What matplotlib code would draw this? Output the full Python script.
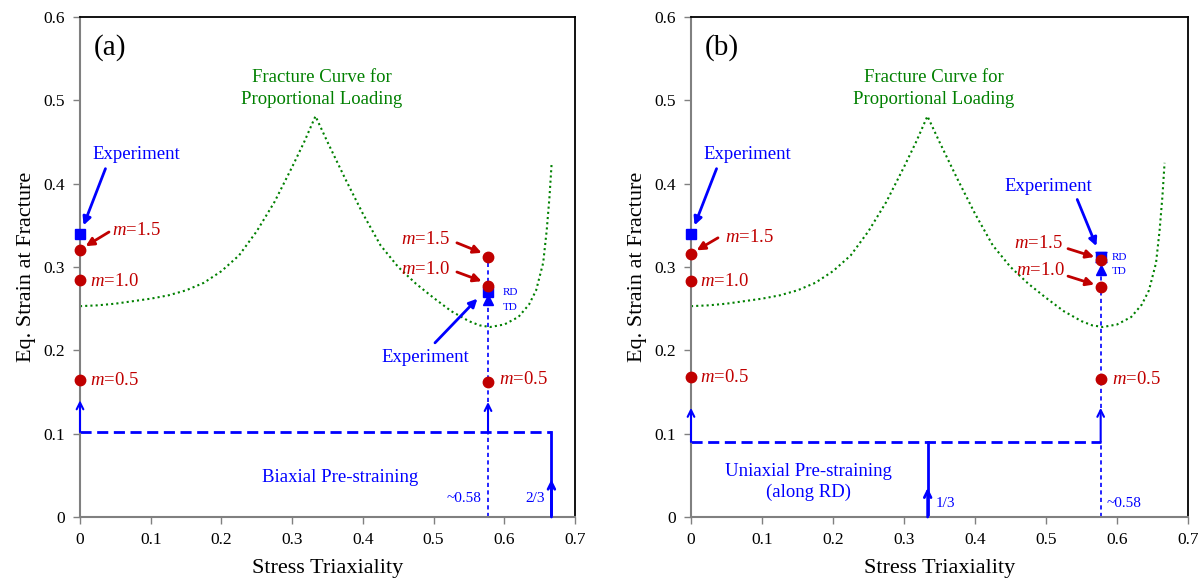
import matplotlib
matplotlib.use('Agg')
import matplotlib.pyplot as plt

plt.rcParams['font.family'] = ['Liberation Serif', 'DejaVu Serif']
plt.rcParams['mathtext.fontset'] = 'custom'
plt.rcParams['mathtext.it'] = 'Liberation Serif:italic'
plt.rcParams['mathtext.rm'] = 'Liberation Serif'

# fracture curve for proportional loading
curve_x = [0.000, 0.025, 0.050, 0.075, 0.100, 0.125, 0.150, 0.175, 0.200,
           0.225, 0.250, 0.275, 0.300, 0.317, 0.333,
           0.350, 0.375, 0.400, 0.425, 0.450, 0.475, 0.500, 0.525, 0.550,
           0.565, 0.580, 0.600, 0.620, 0.635, 0.645, 0.655, 0.660, 0.664,
           0.667]
curve_y = [0.253, 0.254, 0.256, 0.259, 0.262, 0.266, 0.272, 0.281, 0.295,
           0.314, 0.343, 0.378, 0.420, 0.450, 0.481,
           0.450, 0.406, 0.364, 0.326, 0.300, 0.280, 0.263, 0.247, 0.235,
           0.230, 0.228, 0.231, 0.240, 0.255, 0.272, 0.305, 0.344, 0.385,
           0.425]

m_labels = ['$m$=0.5', '$m$=1.0', '$m$=1.5']
eta_shear = 0.0
eta_ps = 0.577

# (a) biaxial pre-straining
a_pre = 0.102
a_path_eta = 2 / 3
a_left_pred = [0.165, 0.284, 0.320]
a_right_pred = [0.162, 0.277, 0.312]
a_left_exp = 0.340
a_right_rd = 0.270
a_right_td = 0.261

# (b) uniaxial pre-straining
b_pre = 0.090
b_path_eta = 1 / 3
b_left_pred = [0.168, 0.283, 0.316]
b_right_pred = [0.166, 0.276, 0.308]
b_left_exp = 0.340
b_right_rd = 0.312
b_right_rd_err = 0.006
b_right_td = 0.297

xticks = [0, 0.1, 0.2, 0.3, 0.4, 0.5, 0.6, 0.7]
xticklabels = ['0', '0.1', '0.2', '0.3', '0.4', '0.5', '0.6', '0.7']
yticks = [0, 0.1, 0.2, 0.3, 0.4, 0.5, 0.6]
yticklabels = ['0', '0.1', '0.2', '0.3', '0.4', '0.5', '0.6']

BLUE = '#0000ff'
RED = '#c00000'
GREEN = '#008000'
GRAY = '#808080'
FS = 13.5

fig = plt.figure(figsize=(12.02, 5.79), dpi=100)
ax_a = fig.add_axes([80 / 1202, 62 / 579, 495 / 1202, 500 / 579])
ax_b = fig.add_axes([691 / 1202, 62 / 579, 497 / 1202, 500 / 579])


def setup(ax, tag):
    ax.set_xlim(0, 0.7)
    ax.set_ylim(0, 0.6)
    ax.set_xticks(xticks)
    ax.set_xticklabels(xticklabels)
    ax.set_yticks(yticks)
    ax.set_yticklabels(yticklabels)
    ax.tick_params(direction='out', length=5, width=1, color=GRAY,
                   labelsize=12.5, pad=6)
    for s in ['left', 'bottom']:
        ax.spines[s].set_color(GRAY)
        ax.spines[s].set_linewidth(1.5)
    for s in ['top', 'right']:
        ax.spines[s].set_color('black')
        ax.spines[s].set_linewidth(1.3)
    ax.set_xlabel('Stress Triaxiality', fontsize=16, labelpad=8)
    ax.set_ylabel('Eq. Strain at Fracture', fontsize=16, labelpad=5)
    ax.text(0.019, 0.563, tag, fontsize=21, va='center')
    ax.plot(curve_x, curve_y, ls=(0, (1, 1.5)), color=GREEN, lw=1.5)
    ax.text(0.342, 0.514, 'Fracture Curve for\nProportional Loading',
            color=GREEN, fontsize=FS, ha='center', va='center',
            linespacing=1.35)


def arrow(ax, start, end, color, style='-|>', lw=2.0, ms=12):
    ax.annotate('', xy=end, xytext=start,
                arrowprops=dict(arrowstyle=style, color=color, lw=lw,
                                mutation_scale=ms, shrinkA=0, shrinkB=0),
                annotation_clip=False)


def up_arrow(ax, x, y0, y1, lw=1.5):
    arrow(ax, (x, y0), (x, y1), BLUE, style='->', lw=lw, ms=12)


# ---------------- panel (a)
setup(ax_a, '(a)')
ax = ax_a
ax.plot([eta_shear, a_path_eta], [a_pre, a_pre], ls=(0, (4, 2)),
        color=BLUE, lw=2, clip_on=False)
ax.plot([a_path_eta, a_path_eta], [0, a_pre], color=BLUE, lw=2)
up_arrow(ax, a_path_eta, 0, 0.045, lw=2)
ax.plot([eta_ps, eta_ps], [0, a_pre], ls=(0, (2.5, 2)), color=BLUE, lw=1.2)
up_arrow(ax, eta_ps, a_pre, 0.138)
ax.plot([eta_ps, eta_ps], [0.138, a_right_pred[2]], ls=(0, (2.5, 2)),
        color=BLUE, lw=1.2)
up_arrow(ax, eta_shear, a_pre, 0.14)
ax.text(0.368, 0.048, 'Biaxial Pre-straining', color=BLUE, fontsize=FS,
        ha='center', va='center')
ax.text(0.568, 0.018, '~0.58', color=BLUE, fontsize=11, ha='right')
ax.text(0.658, 0.018, '2/3', color=BLUE, fontsize=11, ha='right')

ax.plot([eta_shear], [a_left_exp], 's', color=BLUE, ms=7.5, clip_on=False,
        zorder=5)
ax.plot([eta_ps], [a_right_rd], 's', color=BLUE, ms=7.5, zorder=5)
ax.plot([eta_ps], [a_right_td], '^', color=BLUE, ms=7, zorder=5)
ax.plot([eta_shear] * 3, a_left_pred, 'o', color=RED, ms=7.5, clip_on=False,
        zorder=6)
ax.plot([eta_ps] * 3, a_right_pred, 'o', color=RED, ms=7.5, zorder=6)
ax.text(0.598, 0.269, 'RD', color=BLUE, fontsize=8, va='center')
ax.text(0.598, 0.252, 'TD', color=BLUE, fontsize=8, va='center')

ax.text(0.017, 0.435, 'Experiment', color=BLUE, fontsize=FS, va='center')
arrow(ax, (0.036, 0.418), (0.005, 0.350), BLUE)
ax.text(0.045, 0.344, m_labels[2], color=RED, fontsize=FS, va='center')
arrow(ax, (0.041, 0.342), (0.008, 0.325), RED)
ax.text(0.014, 0.283, m_labels[1], color=RED, fontsize=FS, va='center')
ax.text(0.014, 0.164, m_labels[0], color=RED, fontsize=FS, va='center')

ax.text(0.523, 0.333, m_labels[2], color=RED, fontsize=FS, va='center',
        ha='right')
arrow(ax, (0.533, 0.329), (0.568, 0.317), RED)
ax.text(0.523, 0.297, m_labels[1], color=RED, fontsize=FS, va='center',
        ha='right')
arrow(ax, (0.533, 0.294), (0.568, 0.283), RED)
ax.text(0.427, 0.192, 'Experiment', color=BLUE, fontsize=FS, va='center')
arrow(ax, (0.502, 0.209), (0.562, 0.262), BLUE)
ax.text(0.592, 0.165, m_labels[0], color=RED, fontsize=FS, va='center')

# ---------------- panel (b)
setup(ax_b, '(b)')
ax = ax_b
ax.plot([eta_shear, eta_ps], [b_pre, b_pre], ls=(0, (4, 2)),
        color=BLUE, lw=2, clip_on=False)
ax.plot([b_path_eta, b_path_eta], [0, b_pre], color=BLUE, lw=2)
up_arrow(ax, b_path_eta, 0, 0.035, lw=2)
ax.plot([eta_ps, eta_ps], [0, b_pre], ls=(0, (2.5, 2)), color=BLUE, lw=1.2)
up_arrow(ax, eta_ps, b_pre, 0.131)
ax.plot([eta_ps, eta_ps], [0.131, b_right_rd], ls=(0, (2.5, 2)),
        color=BLUE, lw=1.2)
up_arrow(ax, eta_shear, b_pre, 0.131)
ax.text(0.165, 0.042, 'Uniaxial Pre-straining\n(along RD)', color=BLUE,
        fontsize=FS, ha='center', va='center', linespacing=1.3)
ax.text(0.345, 0.012, '1/3', color=BLUE, fontsize=11)
ax.text(0.586, 0.012, '~0.58', color=BLUE, fontsize=11)

ax.plot([eta_shear], [b_left_exp], 's', color=BLUE, ms=7.5, clip_on=False,
        zorder=5)
ax.errorbar([eta_ps], [b_right_rd], yerr=b_right_rd_err, fmt='s',
            color=BLUE, ms=7.5, capsize=4, lw=1.2, zorder=5)
ax.plot([eta_ps], [b_right_td], '^', color=BLUE, ms=7, zorder=5)
ax.plot([eta_shear] * 3, b_left_pred, 'o', color=RED, ms=7.5, clip_on=False,
        zorder=6)
ax.plot([eta_ps] * 3, b_right_pred, 'o', color=RED, ms=7.5, zorder=6)
ax.text(0.592, 0.311, 'RD', color=BLUE, fontsize=8, va='center')
ax.text(0.592, 0.295, 'TD', color=BLUE, fontsize=8, va='center')

ax.text(0.017, 0.435, 'Experiment', color=BLUE, fontsize=FS, va='center')
arrow(ax, (0.036, 0.418), (0.005, 0.350), BLUE)
ax.text(0.048, 0.335, m_labels[2], color=RED, fontsize=FS, va='center')
arrow(ax, (0.038, 0.335), (0.008, 0.320), RED)
ax.text(0.013, 0.282, m_labels[1], color=RED, fontsize=FS, va='center')
ax.text(0.013, 0.167, m_labels[0], color=RED, fontsize=FS, va='center')

ax.text(0.442, 0.397, 'Experiment', color=BLUE, fontsize=FS, va='center')
arrow(ax, (0.544, 0.381), (0.571, 0.325), BLUE)
ax.text(0.523, 0.328, m_labels[2], color=RED, fontsize=FS, va='center',
        ha='right')
arrow(ax, (0.531, 0.322), (0.568, 0.312), RED)
ax.text(0.527, 0.296, m_labels[1], color=RED, fontsize=FS, va='center',
        ha='right')
arrow(ax, (0.531, 0.289), (0.568, 0.279), RED)
ax.text(0.593, 0.165, m_labels[0], color=RED, fontsize=FS, va='center')

fig.savefig('out.png', dpi=100)
